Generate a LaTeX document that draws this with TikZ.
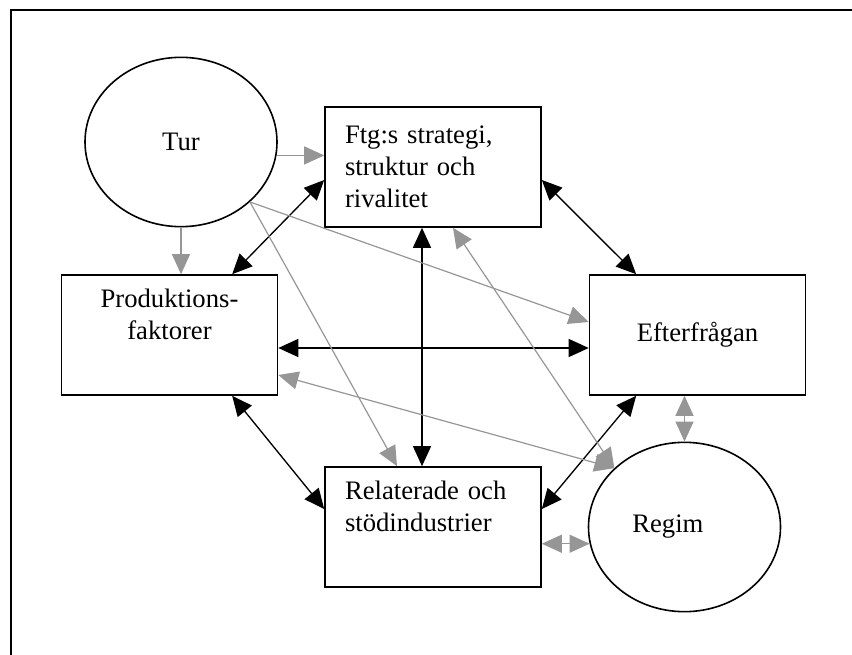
\documentclass[tikz,border=0pt]{standalone}
\usepackage{fontspec}
\setmainfont{Liberation Serif}
\usepackage{tikz}
\usetikzlibrary{shapes.geometric, arrows.meta, positioning, calc}
\definecolor{linkgray}{RGB}{150, 150, 150}

\begin{document}
\begin{tikzpicture}[x=0.75pt, y=-0.75pt,
    >={Triangle[length=15pt, width=13.5pt]},
    box/.style={draw, line width=1.2pt, rectangle, minimum width=162pt, minimum height=90pt, inner sep=0pt, font=\fontsize{20}{24}\selectfont, execute at begin node={\setlength{\baselineskip}{24pt}}},
    blob/.style={draw, ellipse, line width=1.2pt, minimum width=144pt, minimum height=127pt, inner sep=0pt, font=\fontsize{20}{24}\selectfont},
    mainlink/.style={<->, line width=1pt, black},
    sidelink/.style={->, line width=0.9pt, linkgray},
    sidebi/.style={<->, line width=0.9pt, linkgray}]
    \useasboundingbox (0, 0) rectangle (852, 655);
    \clip (0, 0) rectangle (852, 655);

    % Frame
    \draw[line width=1.5pt] (11, 10) rectangle (900, 700);

    % Tur and Regim
    \node[blob] (tur) at (181, 142) {Tur};
    \node[blob] (regim) at (684.5, 527) {Regim\hspace*{25pt}};

    % The four corners of the diamond
    \node[box, text width=132pt, align=left] (strategi) at (433, 167) {Ftg:s strategi,\\ struktur och\\ rivalitet};
    \node[box, align=center] (faktorer) at (169.5, 335) {Produktions-\\ faktorer\\ \strut};
    \node[box] (efterfragan) at (697.5, 335) {Efterfrågan};
    \node[box, text width=132pt, align=left] (industrier) at (433, 527) {Relaterade och\\ stödindustrier\\ \strut};

    % Black links
    \draw[mainlink] ([yshift=-9.75pt]strategi.west) -- ([xshift=47pt]faktorer.north);
    \draw[mainlink] ([yshift=-9.75pt]strategi.east) -- ([xshift=-46pt]efterfragan.north);
    \draw[mainlink] ([xshift=-8.25pt]strategi.south) -- ([xshift=-8.25pt]industrier.north);
    \draw[mainlink] ([yshift=-9.75pt]faktorer.east) -- ([yshift=-9.75pt]efterfragan.west);
    \draw[mainlink] ([xshift=47pt]faktorer.south) -- ([yshift=13.5pt]industrier.west);
    \draw[mainlink] ([xshift=-46pt]efterfragan.south) -- ([yshift=13.5pt]industrier.east);

    % Grey links
    \draw[sidelink] (tur.-8) -- (tur.-8 -| strategi.west);
    \draw[sidelink] (tur.south) -- (tur.south |- faktorer.north);
    \draw[sidelink] (tur.-41) -- ([yshift=9.75pt]efterfragan.west);
    \draw[sidelink] (tur.-41) -- ([xshift=-27pt]industrier.north);
    \draw[sidebi] ([yshift=-30pt]faktorer.east) -- (regim.140);
    \draw[sidebi] ([xshift=15pt]strategi.south) -- (regim.140);
    \draw[sidebi] (regim.north) -- (regim.north |- efterfragan.south);
    \draw[sidebi] (industrier.east |- regim.190) -- (regim.190);

\end{tikzpicture}
\end{document}
